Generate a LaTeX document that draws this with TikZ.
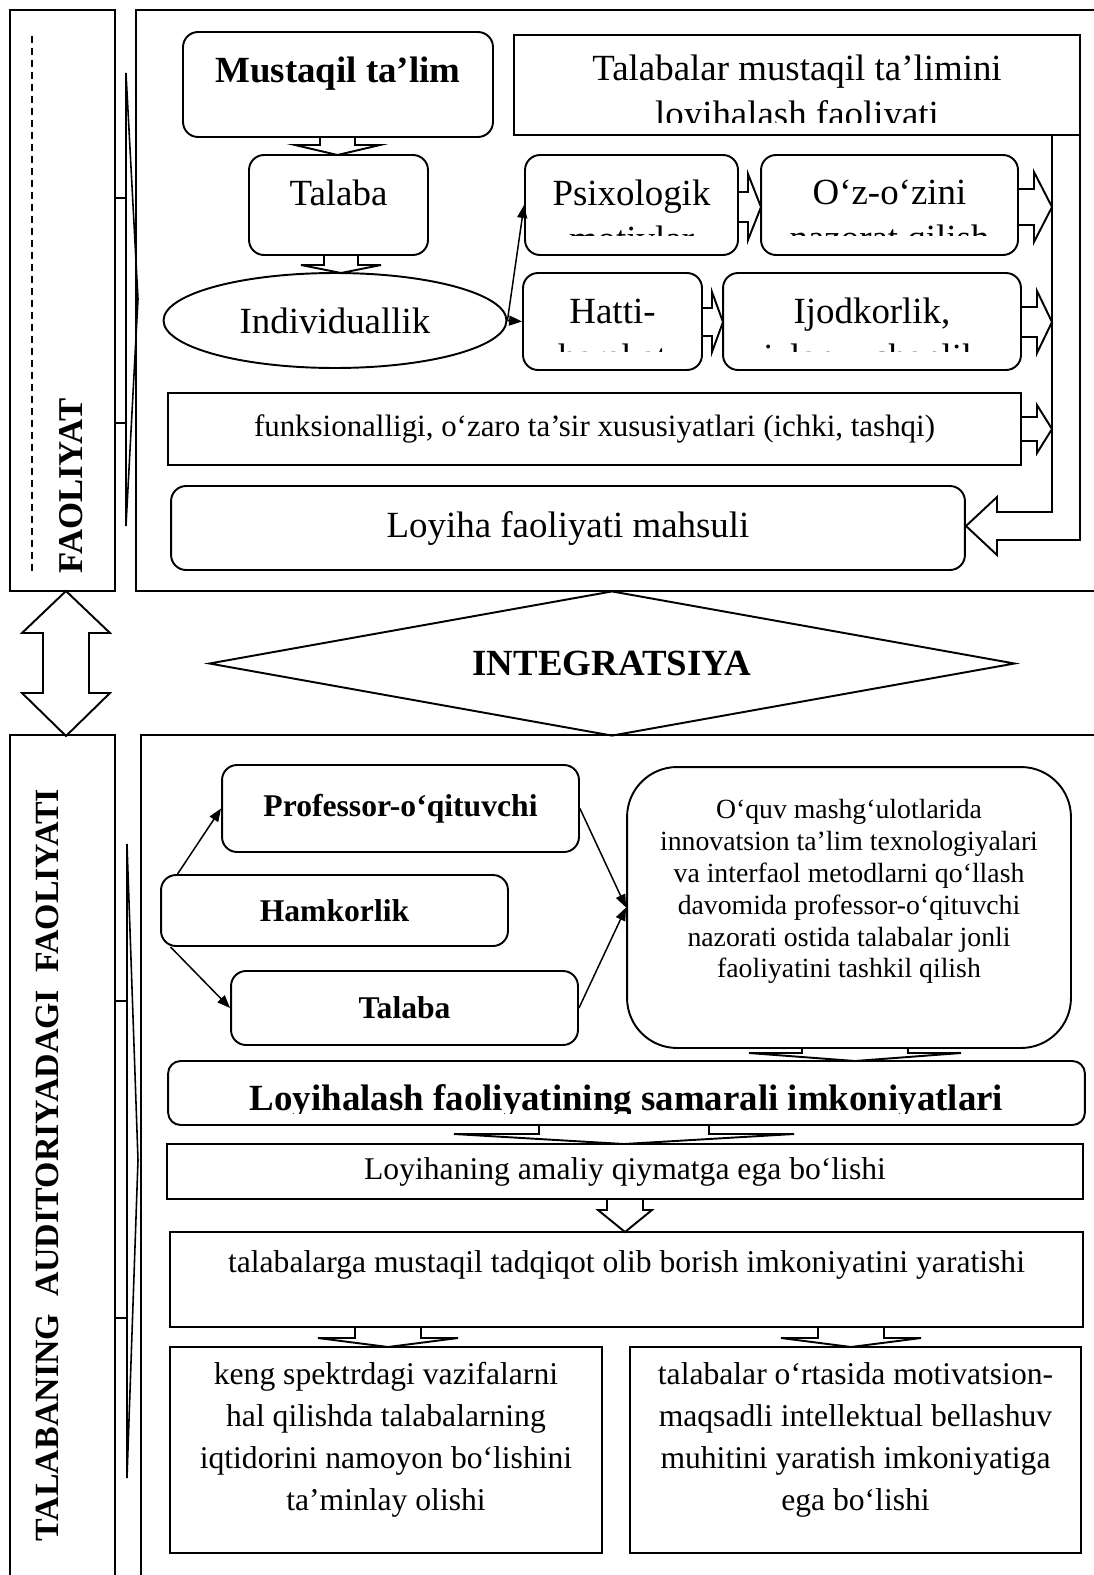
\documentclass[tikz,border=0pt]{standalone}
\usepackage{fontspec}
\setmainfont{Liberation Serif}
\usetikzlibrary{shapes,arrows.meta,calc}

\begin{document}
\begin{tikzpicture}[x=0.02cm, y=-0.02cm,
    sqbox/.style={rectangle, draw, line width=1.1pt, inner sep=2pt, align=center},
    rndbox/.style={sqbox, rounded corners=0.3cm},
    bigfont/.style={font=\fontsize{21}{26.7}\selectfont},
    midfont/.style={font=\fontsize{18}{23.9}\selectfont},
    boldfont/.style={font=\fontsize{18}{22}\selectfont\bfseries},
    intext/.style={draw=none, fill=none, path picture={}, rectangle, rounded corners=0pt,
        minimum width=0pt, minimum height=0pt, inner sep=0pt, anchor=base, align=center},
    % #1 = distance from the top to the baseline of the last line
    toptext/.style 2 args={path picture={
        \node[intext] at ([yshift=-#1]path picture bounding box.north) {#2};}},
    % #1 = bottom margin that hides the overflow
    cut/.style n args={3}{path picture={
        \clip ([yshift=#1]path picture bounding box.south west) rectangle (path picture bounding box.north east);
        \node[intext] at ([yshift=-#2]path picture bounding box.north) {#3};}},
    conn/.style={line width=0.85pt, -{Triangle[length=0.26cm, width=0.2cm]}},
    blockarr/.style={line width=1.1pt, line join=miter},
    bracket/.style={line width=0.9pt}
]
\useasboundingbox (0,0) rectangle (1094,1575);

% Mustaqil ta'lim (top)
\draw[line width=1.1pt] (1100,10) -- (136,10) -- (136,591) -- (1100,591);
\draw[line width=1.1pt] (10,10) rectangle (115,591);
\draw[bracket] (115,198) -- (126,198) -- (126,73) -- (138,299) -- (126,526) -- (126,423) -- (115,423);
\draw[bracket] (126,198) -- (126,423);
\draw[dash pattern=on 0.14cm off 0.1cm, line width=0.8pt] (32,36) -- (32,575);
\node[rotate=90, font=\fontsize{19.8}{24}\selectfont\bfseries] (faol) at (71,486) {FAOLIYAT};

\node[rndbox, bigfont, minimum width=6.2cm, minimum height=2.1cm, toptext={1.02cm}{\bfseries Mustaqil ta’lim}] (must) at (338,84.5) {};
\node[sqbox, bigfont, minimum width=11.32cm, minimum height=2cm, cut={0.24cm}{1.84cm}{Talabalar mustaqil ta’limini\\loyihalash faoliyati}] (loyt) at (797,85) {};
\node[rndbox, bigfont, minimum width=3.58cm, minimum height=2cm, toptext={1cm}{Talaba}] (talaba) at (338.5,205) {};
\node[ellipse, draw, line width=1.1pt, bigfont, minimum width=6.86cm, minimum height=1.9cm, inner sep=0pt] (indiv) at (335,320.5) {Individuallik};
\node[rndbox, bigfont, minimum width=4.26cm, minimum height=2cm, cut={0.38cm}{1.94cm}{Psixologik\\motivlar}] (psix) at (631.5,205) {};
\node[rndbox, bigfont, minimum width=5.14cm, minimum height=2cm, cut={0.38cm}{1.92cm}{O‘z-o‘zini\\nazorat qilish}] (ozoz) at (889.5,205) {};
\node[rndbox, bigfont, minimum width=3.58cm, minimum height=1.94cm, cut={0.37cm}{1.94cm}{Hatti-\\harakat}] (hatti) at (612.5,321.5) {};
\node[rndbox, bigfont, minimum width=5.96cm, minimum height=1.94cm, cut={0.37cm}{1.94cm}{Ijodkorlik,\\izlanuvchanlik}] (ijod) at (872,321.5) {};
\node[sqbox, font=\fontsize{17.6}{21}\selectfont, minimum width=17.06cm, minimum height=1.44cm] (funks) at (594.5,429) {funksionalligi, o‘zaro ta’sir xususiyatlari (ichki, tashqi)};
\node[rndbox, bigfont, minimum width=15.88cm, minimum height=1.68cm] (mahsul) at (568,528) {Loyiha faoliyati mahsuli};

\draw[conn] (indiv.east) -- (psix.west);
\draw[conn] (indiv.east) -- (hatti.west);

% block arrows
\foreach \x/\s/\h/\ya/\yb/\yc in {337.5/17.5/42.5/137/145/155, 341/17/40/255/265/273,
    855/53/106/1048/1053/1061, 624/85/170/1125/1134/1144, 625/18/27/1199/1210/1232,
    388/33/70/1327/1338/1347, 851/33/70/1327/1338/1347}
  \draw[blockarr] (\x-\s,\ya) -- (\x-\s,\yb) -- (\x-\h,\yb) -- (\x,\yc) -- (\x+\h,\yb) -- (\x+\s,\yb) -- (\x+\s,\ya);
\foreach \xa/\xb/\xc/\y/\s/\h in {738/748/761/207/15/33, 1018/1034/1052/207/18/35,
    702/712/723/322/14/30, 1021/1037/1052/322/15/31, 1021/1037/1052/429/12/24}
  \draw[blockarr] (\xa,\y-\s) -- (\xb,\y-\s) -- (\xb,\y-\h) -- (\xc,\y) -- (\xb,\y+\h) -- (\xb,\y+\s) -- (\xa,\y+\s);
\draw[blockarr] (1052,135) -- (1052,512) -- (997,512) -- (997,497) -- (966,526) -- (997,555) -- (997,540) -- (1080,540) -- (1080,135);

% Integratsiya
\draw[blockarr] (66,591) -- (110,633) -- (89,633) -- (89,693) -- (110,693) -- (66,736) -- (22,693) -- (43,693) -- (43,633) -- (22,633) -- cycle;
\node[diamond, draw, line width=1.1pt, aspect=5.5, minimum width=16.12cm, minimum height=2.9cm, inner sep=0pt, font=\fontsize{21}{25}\selectfont\bfseries] (integ) at (612,663.5) {INTEGRATSIYA};

% Auditoriyadagi faoliyat (bottom)
\draw[line width=1.1pt] (1100,735) -- (141,735) -- (141,1580);
\draw[line width=1.1pt] (10,1580) -- (10,735) -- (115,735) -- (115,1580);
\draw[bracket] (115,1001) -- (127,1001) -- (127,844) -- (138,1160) -- (127,1478) -- (127,1318) -- (115,1318);
\draw[bracket] (127,1001) -- (127,1318);
\node[rotate=90, font=\fontsize{19.3}{23}\selectfont\bfseries] (audit) at (47,1165) {TALABANING\ \ AUDITORIYADAGI\ \ FAOLIYATI};

\node[rndbox, boldfont, minimum width=7.14cm, minimum height=1.74cm] (prof) at (400.5,808.5) {Professor-o‘qituvchi};
\node[rndbox, boldfont, minimum width=6.94cm, minimum height=1.42cm] (hamk) at (334.5,910.5) {Hamkorlik};
\node[rndbox, boldfont, minimum width=6.94cm, minimum height=1.48cm] (tal2) at (404.5,1008) {Talaba};
\node[rndbox, rounded corners=1cm, font=\fontsize{15.8}{18.2}\selectfont, minimum width=8.88cm, minimum height=5.62cm,
    toptext={4.22cm}{O‘quv mashg‘ulotlarida\\innovatsion ta’lim texnologiyalari\\va interfaol metodlarni qo‘llash\\davomida professor-o‘qituvchi\\nazorati ostida talabalar jonli\\faoliyatini tashkil qilish}] (bigbox) at (849,907.5) {};

\draw[conn] ($(hamk.north west)!0.05!(hamk.north east)$) -- (prof.west);
\draw[conn] ($(hamk.south west)!0.03!(hamk.south east)$) -- (tal2.west);
\draw[conn] (prof.east) -- (bigbox.west);
\draw[conn] (tal2.east) -- (bigbox.west);

\node[rndbox, rounded corners=0.25cm, font=\fontsize{21}{25}\selectfont\bfseries, minimum width=18.34cm, minimum height=1.28cm,
    cut={0.24cm}{0.98cm}{Loyihalash faoliyatining samarali imkoniyatlari}] (samar) at (626.5,1093) {};
\node[sqbox, midfont, minimum width=18.32cm, minimum height=1.1cm] (amal) at (625,1171.5) {Loyihaning amaliy qiymatga ega bo‘lishi};
\node[sqbox, midfont, minimum width=18.26cm, minimum height=1.9cm,
    toptext={0.8cm}{talabalarga mustaqil tadqiqot olib borish imkoniyatini yaratishi}] (tadq) at (626.5,1279.5) {};
\node[sqbox, midfont, minimum width=8.64cm, minimum height=4.12cm,
    toptext={3.26cm}{keng spektrdagi vazifalarni\\hal qilishda talabalarning\\iqtidorini namoyon bo‘lishini\\ta’minlay olishi}] (keng) at (386,1450) {};
\node[sqbox, midfont, minimum width=9.02cm, minimum height=4.12cm,
    toptext={3.26cm}{talabalar o‘rtasida motivatsion-\\maqsadli intellektual bellashuv\\muhitini yaratish imkoniyatiga\\ega bo‘lishi}] (moti) at (855.5,1450) {};

\end{tikzpicture}
\end{document}
